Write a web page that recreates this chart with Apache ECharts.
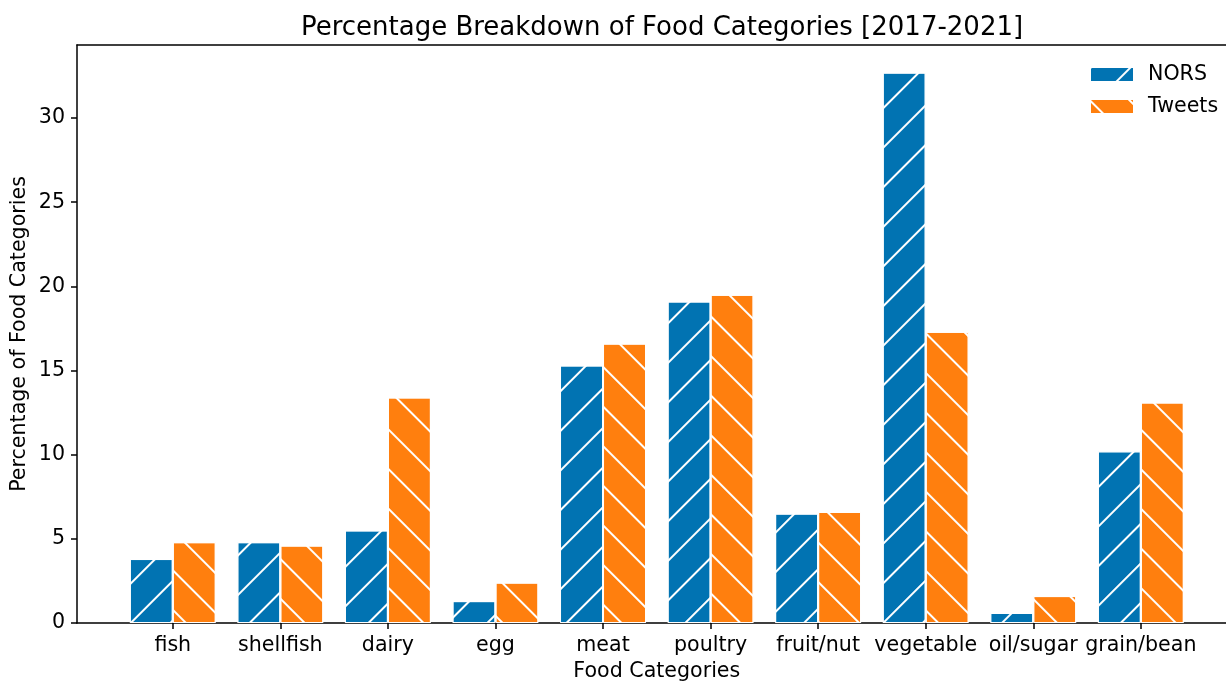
<!DOCTYPE html>
<html>
<head>
<meta charset="utf-8">
<title>Percentage Breakdown of Food Categories [2017-2021]</title>
<script src="https://cdn.jsdelivr.net/npm/echarts@6/dist/echarts.min.js"></script>
<style>
  html, body { margin: 0; padding: 0; background: #ffffff; }
  #chart { width: 1226px; height: 681px; }
</style>
</head>
<body>
<div id="chart"></div>
<script>
// Food categories and their share (%) in outbreak reports vs. tweets
const categories = ['fish', 'shellfish', 'dairy', 'egg', 'meat', 'poultry', 'fruit/nut', 'vegetable', 'oil/sugar', 'grain/bean'];
const norsValues = [3.8, 4.8, 5.5, 1.3, 15.3, 19.1, 6.5, 32.7, 0.6, 10.2];
const tweetValues = [4.8, 4.6, 13.4, 2.4, 16.6, 19.5, 6.6, 17.3, 1.6, 13.1];
const yTicks = [0, 5, 10, 15, 20, 25, 30];
const seriesNames = ['NORS', 'Tweets'];

const FONT = 'DejaVu Sans';
const FS = 20.6;
const Y_MAX = 34.34;

function hatch(angle) {
  return {
    symbol: 'rect',
    symbolSize: 1,
    dashArrayX: [1, 0],
    dashArrayY: [2, 26],
    rotation: angle,
    color: '#ffffff'
  };
}

const chart = echarts.init(document.getElementById('chart'), null, { renderer: 'canvas' });

chart.setOption({
  backgroundColor: '#ffffff',
  animation: false,
  textStyle: { fontFamily: FONT },
  title: {
    text: 'Percentage Breakdown of Food Categories [2017-2021]',
    left: 657,
    textAlign: 'center',
    top: 10,
    textStyle: { fontFamily: FONT, fontSize: 26, fontWeight: 'normal', color: '#000000' }
  },
  legend: {
    orient: 'vertical',
    left: 1089,
    top: 64,
    padding: 0,
    icon: 'rect',
    itemWidth: 44,
    itemHeight: 15,
    itemGap: 11,
    data: seriesNames,
    textStyle: { fontFamily: FONT, fontSize: FS, color: '#000000', padding: [0, 0, 0, 9] }
  },
  grid: [
    // band grid holding the bars, one band per category
    { left: 119, right: 31.4, top: 45, bottom: 58, outerBoundsMode: 'none', containLabel: false },
    // frame grid drawing the spines and the y axis
    { left: 77, right: -11, top: 45, bottom: 58, outerBoundsMode: 'none', containLabel: false }
  ],
  xAxis: [
    {
      type: 'category',
      gridIndex: 0,
      data: categories,
      boundaryGap: true,
      axisLine: { show: false },
      axisTick: { show: true, alignWithLabel: true, length: 6, lineStyle: { color: '#000000', width: 1.5 } },
      axisLabel: { fontFamily: FONT, fontSize: FS, color: '#000000', margin: 12, interval: 0 },
      name: 'Food Categories',
      nameLocation: 'middle',
      nameGap: 38,
      nameMoveOverlap: false,
      nameTextStyle: { fontFamily: FONT, fontSize: FS, color: '#000000' },
      splitLine: { show: false }
    },
    {
      type: 'value',
      gridIndex: 1,
      min: 0,
      max: 1,
      position: 'bottom',
      axisLine: { show: true, onZero: false, lineStyle: { color: '#000000', width: 1.5 } },
      axisTick: { show: false },
      axisLabel: { show: false },
      splitLine: { show: false }
    },
    {
      type: 'value',
      gridIndex: 1,
      min: 0,
      max: 1,
      position: 'top',
      axisLine: { show: true, onZero: false, lineStyle: { color: '#000000', width: 1.5 } },
      axisTick: { show: false },
      axisLabel: { show: false },
      splitLine: { show: false }
    }
  ],
  yAxis: [
    {
      type: 'value',
      gridIndex: 0,
      min: 0,
      max: Y_MAX,
      show: false,
      splitLine: { show: false }
    },
    {
      type: 'value',
      gridIndex: 1,
      min: 0,
      max: Y_MAX,
      axisLine: { show: true, onZero: false, lineStyle: { color: '#000000', width: 1.5 } },
      axisTick: { show: true, length: 6, customValues: yTicks, lineStyle: { color: '#000000', width: 1.5 } },
      axisLabel: { show: true, customValues: yTicks, fontFamily: FONT, fontSize: FS, color: '#000000', margin: 12 },
      splitLine: { show: false },
      name: 'Percentage of Food Categories',
      nameLocation: 'middle',
      nameGap: 47,
      nameMoveOverlap: false,
      nameTextStyle: { fontFamily: FONT, fontSize: FS, color: '#000000' }
    }
  ],
  series: [
    {
      name: seriesNames[0],
      type: 'bar',
      xAxisIndex: 0,
      yAxisIndex: 0,
      data: norsValues,
      barWidth: 43,
      barGap: '0%',
      itemStyle: {
        color: '#0173b2',
        borderColor: '#ffffff',
        borderWidth: 1,
        decal: hatch(-Math.PI / 4)
      }
    },
    {
      name: seriesNames[1],
      type: 'bar',
      xAxisIndex: 0,
      yAxisIndex: 0,
      data: tweetValues,
      barWidth: 43,
      barGap: '0%',
      itemStyle: {
        color: '#ff7f0e',
        borderColor: '#ffffff',
        borderWidth: 1,
        decal: hatch(Math.PI / 4)
      }
    }
  ]
});
</script>
</body>
</html>
